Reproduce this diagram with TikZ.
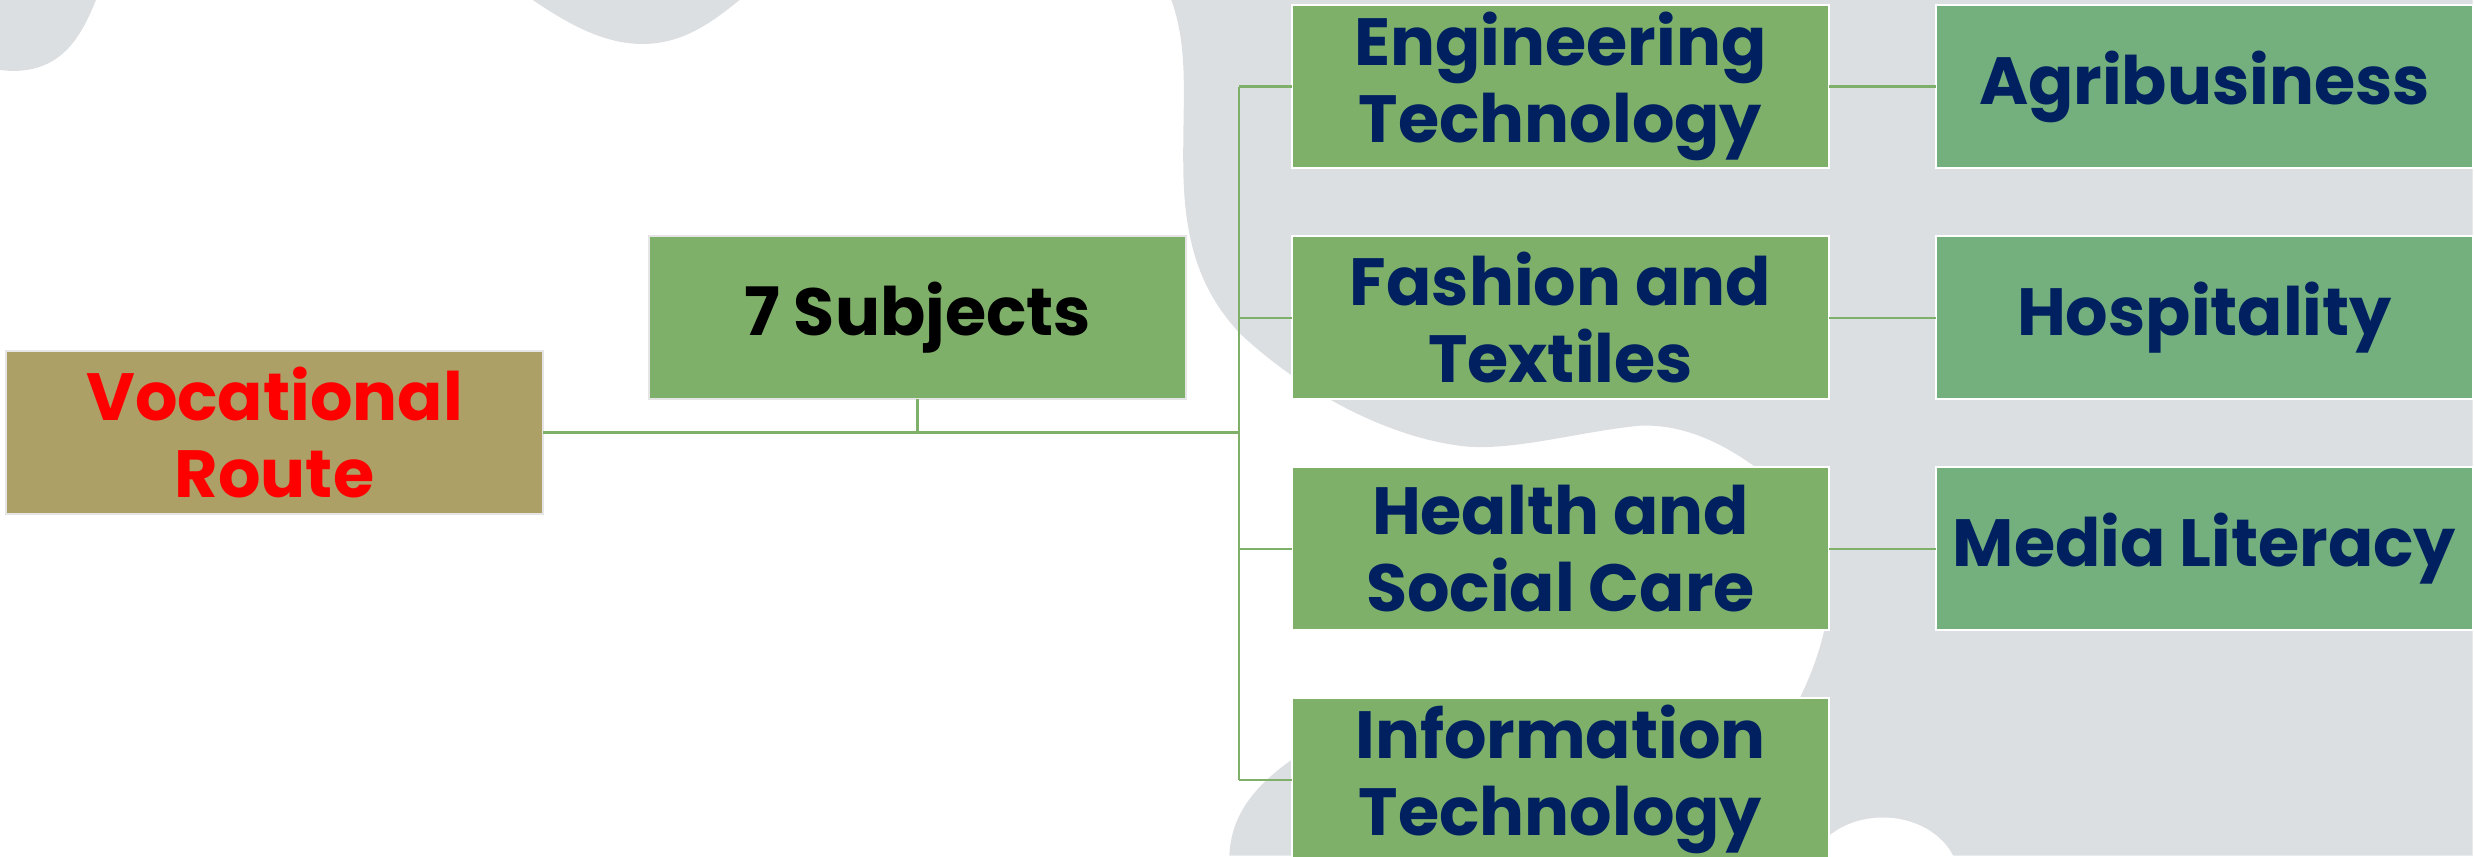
\documentclass[tikz,border=0pt]{standalone}
\usepackage{fontspec}
\setmainfont{Poppins}
\usetikzlibrary{positioning}

\definecolor{blobgrey}{RGB}{220,223,226}
\definecolor{leafgreen}{RGB}{127,176,106}
\definecolor{tealgreen}{RGB}{115,176,125}
\definecolor{olive}{RGB}{172,160,103}
\definecolor{navy}{RGB}{0,32,96}

\tikzset{
	box/.style={draw=white, line width=0.6pt, outer sep=0pt, inner sep=2pt,
		minimum width=5.37cm, minimum height=1.63cm, align=center,
		font=\bfseries\fontsize{19}{22}\selectfont},
	route/.style={box, fill=olive, draw=white!90!black, text=red},
	core/.style={box, fill=leafgreen, draw=white!90!black, text=black},
	subj/.style={box, fill=leafgreen, text=navy},
	extra/.style={box, fill=tealgreen, text=navy},
	link/.style={draw=leafgreen, line width=0.6pt},
}

\begin{document}
\begin{tikzpicture}
\useasboundingbox (0,0) rectangle (24.74,8.56);
\clip (0,0) rectangle (24.74,8.56);

% background blobs
\begin{scope}[shift={(0,8.56)}, x=0.01cm, y=-0.01cm]
	\fill[blobgrey] (0,0) -- (96,0) .. controls (80,40) and (60,72) .. (10,71) -- (0,70) -- cycle;
	\fill[blobgrey] (533,0) .. controls (570,25) and (605,44) .. (643,44)
		.. controls (685,44) and (715,20) .. (740,0) -- cycle;
	\fill[blobgrey] (1172,0) -- (2474,0) -- (2474,856) -- (1230,856)
		.. controls (1232,815) and (1255,785) .. (1300,755) -- (1800,700)
		.. controls (1825,650) and (1835,600) .. (1830,560) -- (1760,470)
		.. controls (1720,440) and (1680,424) .. (1640,426)
		.. controls (1580,432) and (1520,450) .. (1470,447)
		.. controls (1390,440) and (1300,390) .. (1240,333)
		.. controls (1200,290) and (1185,240) .. (1184,170)
		.. controls (1183,100) and (1190,50) .. (1172,0) -- cycle;
	\fill[white] (1884,880) ellipse [x radius=76, y radius=62];
\end{scope}

\node[route] (voc) at (2.745,4.235) {Vocational\\Route};
\node[core] (subs) at (9.175,5.385) {7 Subjects};

\node[subj] (eng) at (15.605,7.695) {Engineering\\Technology};
\node[subj, below=0.68cm of eng] (fas) {Fashion and\\Textiles};
\node[subj, below=0.68cm of fas] (hea) {Health and\\Social Care};
\node[subj, below=0.68cm of hea] (inf) {Information\\Technology};

\node[extra, right=1.07cm of eng] (agr) {Agribusiness};
\node[extra, right=1.07cm of fas] (hos) {Hospitality};
\node[extra, right=1.07cm of hea] (med) {Media Literacy};

\coordinate (trunk) at (12.39,4.235);
\draw[link, line width=0.9pt] (voc.east) -- (trunk);
\draw[link] (subs.south) -- (subs.south |- trunk);
\draw[link] (trunk |- eng.west) -- (trunk |- inf.west);
\foreach \m in {eng,fas,hea,inf}
	\draw[link] (trunk |- \m.west) -- (\m.west);
\draw[link] (eng.east) -- (agr.west);
\draw[link] (fas.east) -- (hos.west);
\draw[link] (hea.east) -- (med.west);
\end{tikzpicture}
\end{document}
